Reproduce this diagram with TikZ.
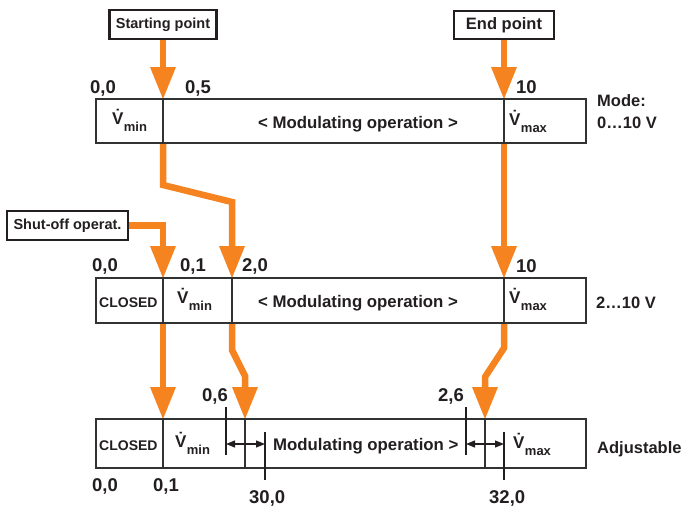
\documentclass[tikz,border=0pt]{standalone}
\usepackage{fontspec}
\setmainfont{Liberation Sans}
\usetikzlibrary{arrows.meta}
\definecolor{org}{RGB}{244,131,32}
\definecolor{ink}{RGB}{35,31,32}
\definecolor{boxline}{RGB}{50,50,50}
\newcommand{\fs}[1]{\fontsize{#1}{#1}\selectfont}
\begin{document}
\begin{tikzpicture}[x=1pt,y=-1pt,
  every node/.style={text=ink,font=\bfseries},
  txt/.style={inner sep=0pt,anchor=base west},
  num/.style={txt,font=\bfseries\fs{18.5}},
  mid/.style={txt,font=\bfseries\fs{16.8}},
  side/.style={txt,font=\bfseries\fs{16.5}},
  vtxt/.style={txt,font=\bfseries\fs{17}},
  subtxt/.style={inner sep=0pt,anchor=base west,font=\bfseries\fs{13}},
  closedtxt/.style={txt,font=\bfseries\fs{14}},
  cellline/.style={draw=boxline,line width=1.1pt},
  tag/.style={draw=ink,line width=2.2pt,inner sep=0pt},
  oarrow/.style={draw=org,line width=6.5pt,line join=miter,
    -{Triangle[length=32pt,width=26pt,line width=0pt,fill=org]}},
  dim/.style={draw=ink,line width=1.1pt},
  dimarrow/.style={dim,{Triangle[length=9pt,width=7pt]}-{Triangle[length=9pt,width=7pt]}}
]
\useasboundingbox (0,0) rectangle (684,509);

% label boxes
\node[tag,minimum width=107pt,minimum height=29pt,font=\bfseries\fs{14.5}] (start) at (163,24.5) {Starting point};
\node[tag,minimum width=100pt,minimum height=28pt,font=\bfseries\fs{16.5}] (endp) at (504,25) {End point};
\node[tag,minimum width=121pt,minimum height=29pt,font=\bfseries\fs{14.5}] (shut) at (67.5,225.5) {Shut-off operat.};

% cell corner coordinates
\coordinate (r1nw) at (96,99);  \coordinate (r1se) at (586,143);
\coordinate (r1p) at (163,99);  \coordinate (r1pb) at (163,143);
\coordinate (r1q) at (504,99);  \coordinate (r1qb) at (504,143);
\coordinate (r2nw) at (96,278); \coordinate (r2se) at (586,323);
\coordinate (r2p) at (163,278); \coordinate (r2pb) at (163,323);
\coordinate (r2q) at (232,278); \coordinate (r2qb) at (232,323);
\coordinate (r2r) at (504,278); \coordinate (r2rb) at (504,323);
\coordinate (r3nw) at (96,419); \coordinate (r3se) at (586,468);
\coordinate (r3p) at (163,419); \coordinate (r3pb) at (163,468);
\coordinate (r3q) at (245,419); \coordinate (r3qb) at (245,468);
\coordinate (r3r) at (485,419); \coordinate (r3rb) at (485,468);

% bend points
\coordinate (b1) at (163,185);
\coordinate (b2) at (232,202);
\coordinate (s1) at (163,225.5);
\coordinate (c1) at (232,350);
\coordinate (c2) at (245,376);
\coordinate (d1) at (504,348);
\coordinate (d2) at (485,377);

% orange arrows
\draw[oarrow] (start.south) -- (r1p);
\draw[oarrow] (endp.south) -- (r1q);
\draw[oarrow] (r1pb) -- (b1) -- (b2) -- (r2q);
\draw[oarrow] (r1qb) -- (r2r);
\draw[oarrow] (shut.east) -- (s1) -- (r2p);
\draw[oarrow] (r2pb) -- (r3p);
\draw[oarrow] (r2qb) -- (c1) -- (c2) -- (r3q);
\draw[oarrow] (r2rb) -- (d1) -- (d2) -- (r3r);

% cell borders
\draw[cellline] (r1nw) rectangle (r1se) (r1p) -- (r1pb) (r1q) -- (r1qb);
\draw[cellline] (r2nw) rectangle (r2se) (r2p) -- (r2pb) (r2q) -- (r2qb) (r2r) -- (r2rb);
\draw[cellline] (r3nw) rectangle (r3se) (r3p) -- (r3pb) (r3q) -- (r3qb) (r3r) -- (r3rb);

% dimension marks row 3
\coordinate (t1a) at (226,407); \coordinate (t1b) at (226,455);
\coordinate (t2a) at (265,432); \coordinate (t2b) at (265,480);
\coordinate (t3a) at (466,407); \coordinate (t3b) at (466,455);
\coordinate (t4a) at (504,432); \coordinate (t4b) at (504,480);
\draw[dim] (t1a) -- (t1b);
\draw[dim] (t2a) -- (t2b);
\draw[dim] (t3a) -- (t3b);
\draw[dim] (t4a) -- (t4b);
\coordinate (a1) at (226,444); \coordinate (a2) at (265,444);
\coordinate (a3) at (466,444); \coordinate (a4) at (504,444);
\draw[dimarrow] (a1) -- (a2);
\draw[dimarrow] (a3) -- (a4);

% cell texts
\node[vtxt] (v1) at (112,124) {V̇};
\node[subtxt] (v1s) at (v1.base east) [yshift=-7pt] {min};
\node[mid] (m1) at (258,128) {< Modulating operation >};
\node[vtxt] (x1) at (509,125) {V̇};
\node[subtxt] (x1s) at (x1.base east) [yshift=-7pt] {max};

\node[closedtxt] (cl2) at (99,307) {CLOSED};
\node[vtxt] (v2) at (177,303) {V̇};
\node[subtxt] (v2s) at (v2.base east) [yshift=-7pt] {min};
\node[mid] (m2) at (258,307) {< Modulating operation >};
\node[vtxt] (x2) at (509,303) {V̇};
\node[subtxt] (x2s) at (x2.base east) [yshift=-7pt] {max};

\node[closedtxt] (cl3) at (99,450) {CLOSED};
\node[vtxt] (v3) at (175,447) {V̇};
\node[subtxt] (v3s) at (v3.base east) [yshift=-7pt] {min};
\node[mid] (m3) at (273,450) {Modulating operation >};
\node[vtxt] (x3) at (513,448) {V̇};
\node[subtxt] (x3s) at (x3.base east) [yshift=-7pt] {max};

% numbers
\node[num] (n1) at (90,93) {0,0};
\node[num] (n2) at (185,93) {0,5};
\node[num] (n3) at (516,93) {10};
\node[num] (n4) at (92,271) {0,0};
\node[num] (n5) at (180,271) {0,1};
\node[num] (n6) at (242,271) {2,0};
\node[num] (n7) at (516,272) {10};
\node[num] (n8) at (202,401) {0,6};
\node[num] (n9) at (438,401) {2,6};
\node[num] (n10) at (92,491) {0,0};
\node[num] (n11) at (153,491) {0,1};
\node[num] (n12) at (249,503) {30,0};
\node[num] (n13) at (489,503) {32,0};

% side labels
\node[side] (mode) at (597,106) {Mode:};
\node[side] (mode2) at (597,128) {0…10 V};
\node[side] (md2) at (596,308) {2…10 V};
\node[side] (adj) at (597,453) {Adjustable};
\end{tikzpicture}
\end{document}
